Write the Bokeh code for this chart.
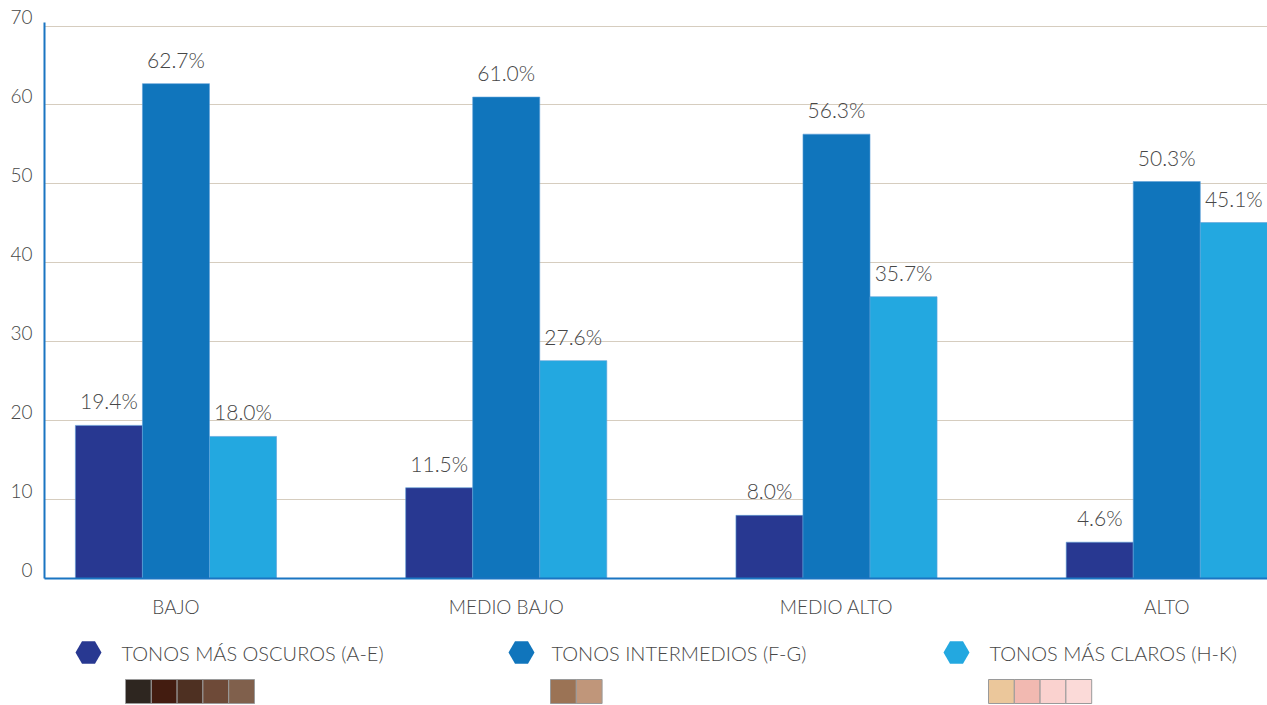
from bokeh.plotting import figure
from bokeh.models import Range1d, FixedTicker, LinearAxis, Grid, ColumnDataSource
from bokeh.layouts import column
from bokeh.transform import dodge
from bokeh.embed import file_html
from bokeh.resources import INLINE
from bokeh.core.properties import value

# ---- data ----
categories = ["BAJO", "MEDIO BAJO", "MEDIO ALTO", "ALTO"]
series_names = ["TONOS MÁS OSCUROS (A-E)", "TONOS INTERMEDIOS (F-G)", "TONOS MÁS CLAROS (H-K)"]
oscuros = [19.4, 11.5, 8.0, 4.6]
intermedios = [62.7, 61.0, 56.3, 50.3]
claros = [18.0, 27.6, 35.7, 45.1]
y_ticks = [0, 10, 20, 30, 40, 50, 60, 70]
swatches_oscuros = ["#2e2620", "#431c10", "#4e3022", "#6e4a38", "#80604c"]
swatches_intermedios = ["#9b7355", "#c0967a"]
swatches_claros = ["#ebc79b", "#f2b9b1", "#fad2cf", "#fbdad8"]

# ---- style ----
FONT = "'Lato Light', Lato"
TXT = "#474747"
BLUE_AXIS = "#1a75c2"
GRID = "#d6cdbf"
colors = ["#283891", "#1075bc", "#23a8e0"]
W = 1267
LEFT = 44
BAR_W = 0.203
Y_END = 71.46
LABEL_SHIFT = 1.14   # tick labels sit slightly above their gridlines

idx = list(range(len(categories)))
src = ColumnDataSource(dict(
    x=idx, oscuros=oscuros, intermedios=intermedios, claros=claros,
    l_osc=[f"{v:.1f}%" for v in oscuros],
    l_int=[f"{v:.1f}%" for v in intermedios],
    l_cla=[f"{v:.1f}%" for v in claros],
))

p = figure(width=W, height=625, output_backend="svg", toolbar_location=None,
           x_range=Range1d(-0.398, 3.305), y_range=Range1d(0, Y_END),
           min_border_left=LEFT, min_border_right=0, min_border_top=14, min_border_bottom=47,
           x_axis_location=None, y_axis_location=None)
p.outline_line_color = None
p.background_fill_color = "white"
p.xgrid.visible = False
p.ygrid.visible = False
p.extra_y_ranges = {"lab": Range1d(-LABEL_SHIFT, Y_END - LABEL_SHIFT)}

p.add_layout(Grid(dimension=1, ticker=FixedTicker(ticks=y_ticks), grid_line_color=GRID, grid_line_width=1))

# axis line (no labels)
yline = LinearAxis(ticker=FixedTicker(ticks=[]), bounds=(0, 70.44))
yline.axis_line_color = BLUE_AXIS
yline.axis_line_width = 2
yline.major_tick_line_color = None
yline.minor_tick_line_color = None
yline.major_label_standoff = 0
p.add_layout(yline, "left")

# tick labels
ylab = LinearAxis(y_range_name="lab", ticker=FixedTicker(ticks=y_ticks))
ylab.axis_line_color = None
ylab.major_tick_line_color = None
ylab.minor_tick_line_color = None
ylab.major_label_text_font = FONT
ylab.major_label_text_font_size = "19px"
ylab.major_label_text_color = TXT
ylab.major_label_standoff = 6
p.add_layout(ylab, "left")

xax = LinearAxis(ticker=FixedTicker(ticks=idx),
                 major_label_overrides={i: c for i, c in zip(idx, categories)})
xax.axis_line_color = BLUE_AXIS
xax.axis_line_width = 2
xax.major_tick_line_color = None
xax.minor_tick_line_color = None
xax.major_label_text_font = FONT
xax.major_label_text_font_size = "19px"
xax.major_label_text_color = TXT
xax.major_label_standoff = 10
p.add_layout(xax, "below")

for field, lab, off, col in [("oscuros", "l_osc", -BAR_W, colors[0]),
                             ("intermedios", "l_int", 0.0, colors[1]),
                             ("claros", "l_cla", BAR_W, colors[2])]:
    p.vbar(x=dodge("x", off), top=field, width=BAR_W, bottom=0, source=src,
           fill_color=col, line_color="#5e9fd8", line_width=0.6)
    p.text(x=dodge("x", off), y=field, text=lab, source=src,
           text_align="center", text_baseline="bottom", y_offset=-12,
           text_font=value(FONT), text_font_size="21px", text_color=TXT)

# ---- legend ----
LH = 79
lg = figure(width=W, height=LH, output_backend="svg", toolbar_location=None,
            x_range=Range1d(LEFT, W), y_range=Range1d(LH, 0),
            min_border_left=LEFT, min_border_right=0, min_border_top=0, min_border_bottom=0,
            x_axis_location=None, y_axis_location=None)
lg.outline_line_color = None
lg.xgrid.visible = False
lg.ygrid.visible = False

marker_x = [88, 521, 956]
text_x = [121, 551, 989]
sw_x = [125, 550, 988]
row_y = 27
SW = 25.8
for i, (name, sw) in enumerate(zip(series_names, [swatches_oscuros, swatches_intermedios, swatches_claros])):
    lg.scatter([marker_x[i]], [row_y], marker="hex", size=26, fill_color=colors[i], line_color=None)
    lg.text([text_x[i]], [row_y], text=[name], text_align="left", text_baseline="middle",
            text_font=value(FONT), text_font_size="20px", text_color=TXT)
    lefts = [sw_x[i] + k * SW for k in range(len(sw))]
    lg.quad(left=lefts, right=[l + SW for l in lefts], top=[54] * len(sw), bottom=[78] * len(sw),
            fill_color=sw, line_color="#9a9a9a", line_width=1)

layout = column(p, lg, spacing=0)
open("out.html", "w").write(file_html(layout, INLINE))
